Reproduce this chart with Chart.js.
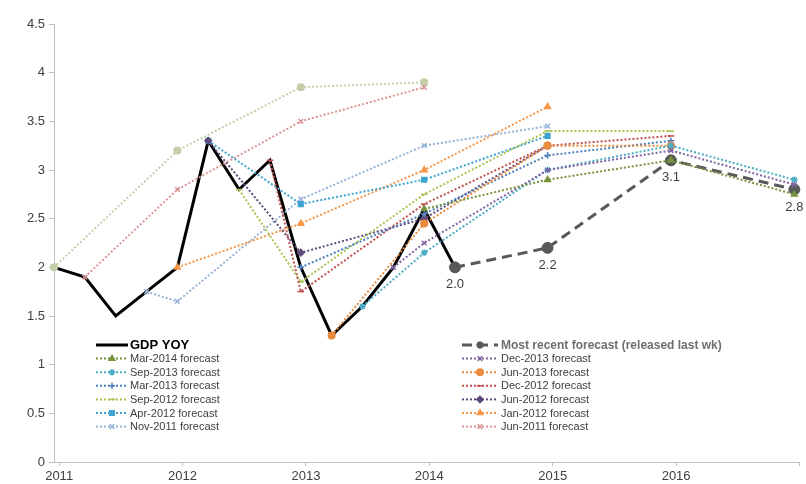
<!DOCTYPE html>
<html>
<head>
<meta charset="utf-8">
<script src="https://cdn.jsdelivr.net/npm/chart.js@4.4.1/dist/chart.umd.min.js"></script>
<style>
  html, body { margin: 0; padding: 0; background: #ffffff; }
  canvas { display: block; }
</style>
</head>
<body>
<canvas id="chart" width="806" height="484"></canvas>
<script>
// ---- Actual GDP, year-over-year % change, by quarter (YYYY-MM of quarter end)
const gdpQuarters = ['2010-12', '2011-03', '2011-06', '2011-09', '2011-12', '2012-03', '2012-06',
                     '2012-09', '2012-12', '2013-03', '2013-06', '2013-09', '2013-12', '2014-03'];
const gdpYoY = [2.0, 1.9, 1.5, 1.75, 2.0, 3.3, 2.8, 3.1, 2.0, 1.3, 1.6, 2.0, 2.6, 2.0];

// ---- Projection rounds (Q4/Q4 growth, midpoint of central tendency)
// each round starts from the last actual quarter known at release, then year-end targets
const roundNames = ['Most recent forecast (released last wk)', 'Mar-2014 forecast', 'Dec-2013 forecast',
                    'Sep-2013 forecast', 'Jun-2013 forecast', 'Mar-2013 forecast', 'Dec-2012 forecast',
                    'Sep-2012 forecast', 'Jun-2012 forecast', 'Apr-2012 forecast', 'Jan-2012 forecast',
                    'Nov-2011 forecast', 'Jun-2011 forecast', 'Apr-2011 forecast'];
const roundStartQuarter = ['2014-03', '2013-12', '2013-09', '2013-06', '2013-03', '2012-12', '2012-09',
                           '2012-06', '2012-03', '2012-03', '2011-12', '2011-09', '2011-03', '2010-12'];
const roundFirstYear = [2014, 2014, 2013, 2013, 2013, 2013, 2012, 2012, 2012, 2012, 2012, 2011, 2011, 2011];

const mostRecent = [2.2, 3.1, 2.8];
const mar2014 = [2.9, 3.1, 2.75];
const dec2013 = [2.25, 3.0, 3.2, 2.85];
const sep2013 = [2.15, 3.0, 3.25, 2.9];
const jun2013 = [2.45, 3.25, 3.25];
const mar2013 = [2.55, 3.15, 3.3];
const dec2012 = [1.75, 2.65, 3.25, 3.35];
const sep2012 = [1.85, 2.75, 3.4, 3.4];
const jun2012 = [2.15, 2.5, 3.25];
const apr2012 = [2.65, 2.9, 3.35];
const jan2012 = [2.45, 3.0, 3.65];
const nov2011 = [1.65, 2.7, 3.25, 3.45];
const jun2011 = [2.8, 3.5, 3.85];
const apr2011 = [3.2, 3.85, 3.9];
const roundValues = [mostRecent, mar2014, dec2013, sep2013, jun2013, mar2013, dec2012,
                     sep2012, jun2012, apr2012, jan2012, nov2011, jun2011, apr2011];

// ---- Axis ticks
const xTickYears = [2011, 2012, 2013, 2014, 2015, 2016, 2017];
const xTickLabels = ['2011', '2012', '2013', '2014', '2015', '2016', ''];
const yTickValues = [0, 0.5, 1, 1.5, 2, 2.5, 3, 3.5, 4, 4.5];
const yTickLabels = ['0', '0.5', '1', '1.5', '2', '2.5', '3', '3.5', '4', '4.5'];

// ---- Styling of each round
const roundColors = ['#595959', '#77933C', '#8064A2', '#4BACC6', '#E98A3C', '#4F81BD', '#C0504D',
                     '#A9C452', '#604A7B', '#3FA4CF', '#F79646', '#95B3D7', '#D99694', '#C4CFA9'];
const roundMarkers = ['circle', 'triangle', 'crossRot', 'star', 'circle', 'cross', 'line',
                      'line', 'rectRot', 'rect', 'triangle', 'crossRot', 'crossRot', 'circle'];
const roundInLegend = [true, true, true, true, true, true, true, true, true, true, true, true, true, false];

// mid-month position of a YYYY-MM date on a decimal-year axis
function toYear(ym) {
  const [y, m] = ym.split('-').map(Number);
  return y + (m - 0.5) / 12;
}

const gdpPoints = gdpQuarters.map((q, i) => ({ x: toYear(q), y: gdpYoY[i] }));

const datasets = [{
  label: 'GDP YOY',
  data: gdpPoints,
  borderColor: '#000000',
  backgroundColor: '#000000',
  borderWidth: 3,
  pointRadius: 0,
  order: 50,
  inLegend: true,
  legendFont: 'bold 13px "Liberation Sans", Arial, sans-serif',
  legendColor: '#000000'
}];

roundNames.forEach((name, r) => {
  const start = roundStartQuarter[r];
  const pts = [{ x: toYear(start), y: gdpYoY[gdpQuarters.indexOf(start)] }];
  roundValues[r].forEach((v, k) => pts.push({ x: toYear((roundFirstYear[r] + k) + '-12'), y: v }));
  const latest = r === 0;
  const c = roundColors[r];
  datasets.push({
    label: name,
    data: pts,
    borderColor: c,
    backgroundColor: c,
    pointBackgroundColor: c,
    pointBorderColor: c,
    borderWidth: latest ? 3 : 2,
    borderDash: latest ? [10, 6] : [2, 2],
    pointStyle: roundMarkers[r],
    pointRadius: latest ? 5.5 : 3.3,
    pointBorderWidth: latest ? 1 : 1.5,
    order: latest ? 40 : 10 + r,
    inLegend: roundInLegend[r],
    showValues: latest,
    legendFont: latest ? 'bold 12px "Liberation Sans", Arial, sans-serif'
                       : '11px "Liberation Sans", Arial, sans-serif',
    legendColor: latest ? '#6f6f6f' : '#404040'
  });
});

// two-column legend placed inside the plot, under the lines
const twoColumnLegend = {
  id: 'twoColumnLegend',
  afterDraw(chart) {
    const ctx = chart.ctx;
    const cols = [{ x0: 96, x1: 128, tx: 130 }, { x0: 462, x1: 498, tx: 501 }];
    const rowTop = 345, rowStep = 13.6;
    const items = chart.data.datasets.filter(d => d.inLegend);
    items.forEach((ds, i) => {
      const c = cols[i % 2];
      const y = rowTop + Math.floor(i / 2) * rowStep;
      ctx.save();
      ctx.strokeStyle = ds.borderColor;
      ctx.lineWidth = ds.borderWidth;
      ctx.setLineDash(ds.borderDash || []);
      ctx.beginPath();
      ctx.moveTo(c.x0, y);
      ctx.lineTo(c.x1, y);
      ctx.stroke();
      ctx.setLineDash([]);
      if (ds.pointRadius > 0 && Chart.helpers && Chart.helpers.drawPoint) {
        ctx.fillStyle = ds.pointBackgroundColor;
        ctx.strokeStyle = ds.pointBorderColor;
        ctx.lineWidth = ds.pointBorderWidth;
        Chart.helpers.drawPoint(ctx, {
          pointStyle: ds.pointStyle,
          radius: Math.min(ds.pointRadius, 3.2),
          borderWidth: ds.pointBorderWidth,
          rotation: 0
        }, (c.x0 + c.x1) / 2, y);
      }
      ctx.font = ds.legendFont;
      ctx.fillStyle = ds.legendColor;
      ctx.textAlign = 'left';
      ctx.textBaseline = 'middle';
      ctx.fillText(ds.label, c.tx, y + 0.5);
      ctx.restore();
    });
  }
};

// value labels under the points of the latest round
const valueLabels = {
  id: 'valueLabels',
  afterDatasetsDraw(chart) {
    const ctx = chart.ctx;
    chart.data.datasets.forEach((ds, i) => {
      if (!ds.showValues) return;
      const meta = chart.getDatasetMeta(i);
      meta.data.forEach((pt, k) => {
        ctx.save();
        ctx.font = '13px "Liberation Sans", Arial, sans-serif';
        ctx.fillStyle = '#404040';
        ctx.textAlign = 'center';
        ctx.textBaseline = 'middle';
        ctx.fillText(ds.data[k].y.toFixed(1), pt.x, pt.y + 17.5);
        ctx.restore();
      });
    });
  }
};

Chart.defaults.font.family = '"Liberation Sans", Arial, sans-serif';

new Chart(document.getElementById('chart'), {
  type: 'line',
  data: { datasets },
  options: {
    responsive: false,
    animation: false,
    devicePixelRatio: 1,
    layout: { padding: { top: 24, right: 3, bottom: 0, left: 0 } },
    elements: { line: { tension: 0, fill: false } },
    datasets: { line: { clip: false } },
    plugins: { legend: { display: false }, tooltip: { enabled: false } },
    scales: {
      x: {
        type: 'linear',
        min: toYear(gdpQuarters[0]),
        max: 2017,
        afterBuildTicks(scale) { scale.ticks = xTickYears.map(v => ({ value: v })); },
        afterFit(scale) { scale.height = 22; },
        ticks: {
          autoSkip: false,
          maxRotation: 0,
          padding: 3,
          color: '#404040',
          font: { size: 13 },
          callback: (v) => xTickLabels[xTickYears.indexOf(v)] ?? ''
        },
        grid: { drawOnChartArea: false, drawTicks: true, tickLength: 4, color: '#BFBFBF' },
        border: { display: true, color: '#BFBFBF', width: 1 }
      },
      y: {
        min: 0,
        max: 4.5,
        afterBuildTicks(scale) { scale.ticks = yTickValues.map(v => ({ value: v })); },
        afterFit(scale) { scale.width = 54; },
        ticks: {
          padding: 4,
          color: '#404040',
          font: { size: 13 },
          callback: (v) => yTickLabels[yTickValues.indexOf(v)] ?? ''
        },
        grid: { drawOnChartArea: false, drawTicks: true, tickLength: 5, color: '#BFBFBF' },
        border: { display: true, color: '#BFBFBF', width: 1 }
      }
    }
  },
  plugins: [twoColumnLegend, valueLabels]
});
</script>
</body>
</html>
